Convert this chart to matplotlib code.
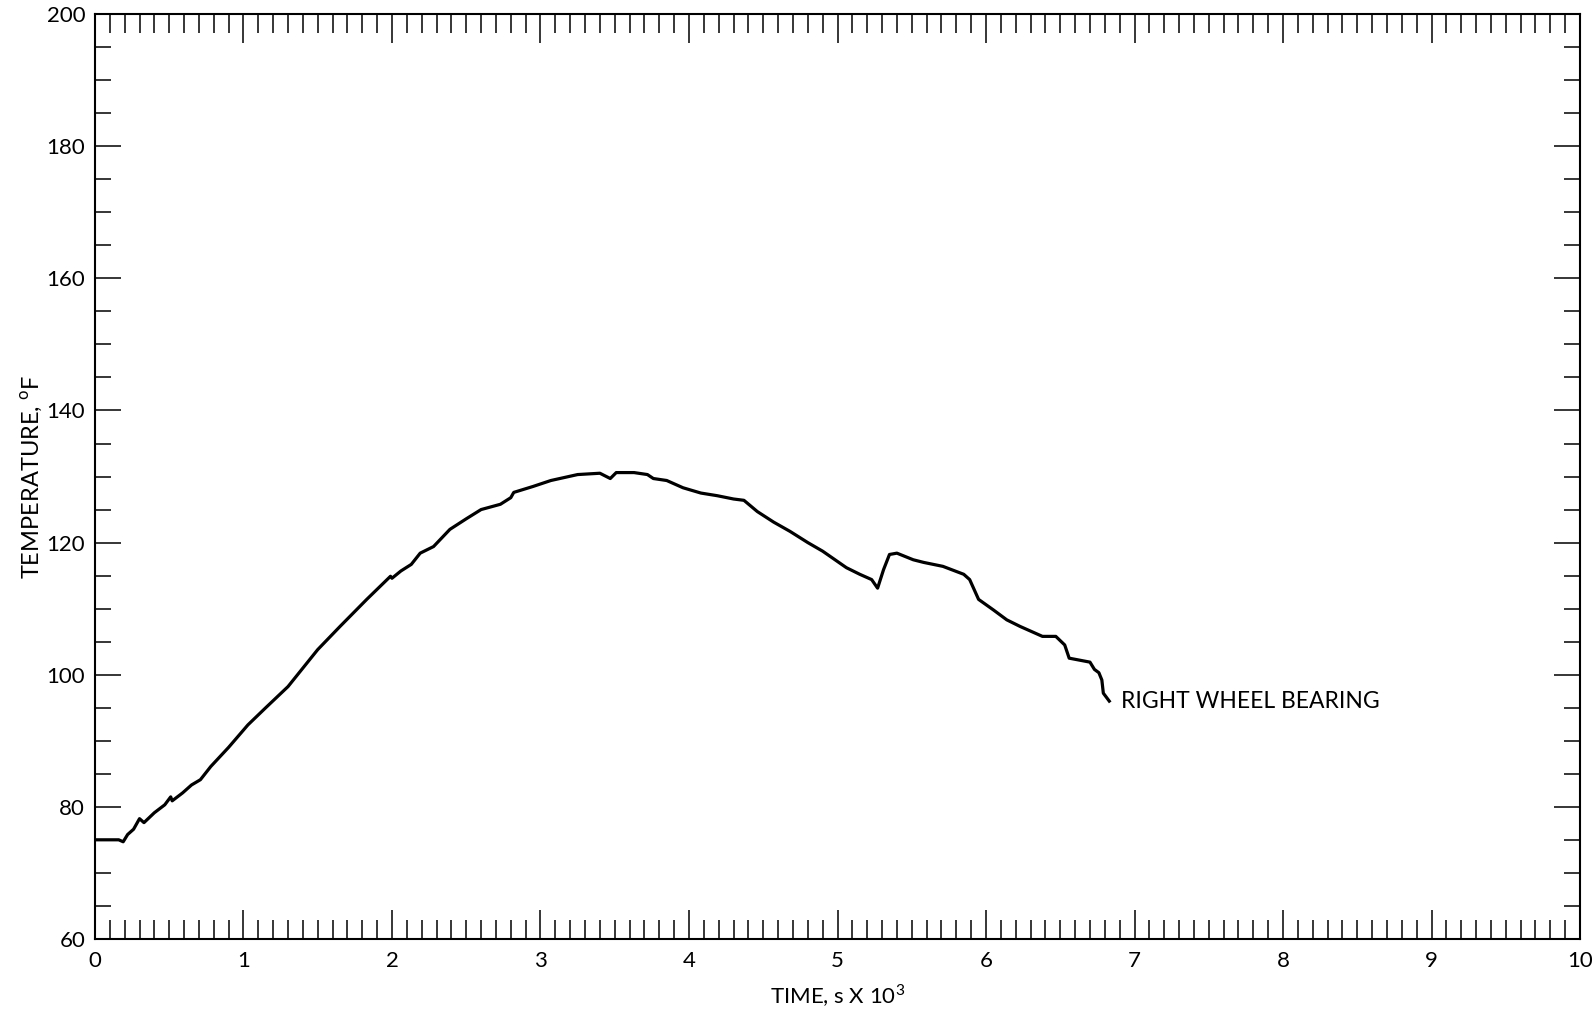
import matplotlib
matplotlib.use("Agg")
import matplotlib.pyplot as plt
from matplotlib.ticker import MultipleLocator

plt.rcParams["font.family"] = ["Lato", "DejaVu Sans"]
plt.rcParams["mathtext.fontset"] = "custom"
plt.rcParams["mathtext.rm"] = "Lato"

# time in thousands of seconds, temperature in deg F
time_ks = [
    0.00, 0.10, 0.16, 0.19, 0.22, 0.26, 0.30, 0.33, 0.40, 0.47,
    0.51, 0.52, 0.59, 0.65, 0.71, 0.78, 0.90, 1.03, 1.15, 1.30,
    1.50, 1.65, 1.83, 1.99, 2.00, 2.06, 2.13, 2.19, 2.28, 2.39,
    2.50, 2.60, 2.73, 2.80, 2.82, 2.95, 3.07, 3.25, 3.40, 3.47,
    3.51, 3.63, 3.72, 3.76, 3.85, 3.96, 4.08, 4.19, 4.30, 4.37,
    4.46, 4.57, 4.68, 4.80, 4.90, 5.06, 5.15, 5.23, 5.27, 5.31,
    5.35, 5.40, 5.51, 5.58, 5.71, 5.85, 5.89, 5.95, 6.05, 6.14,
    6.23, 6.38, 6.47, 6.53, 6.56, 6.70, 6.73, 6.76, 6.78, 6.79,
    6.83,
]
temp_f = [
    75.0, 75.0, 75.0, 74.7, 75.8, 76.6, 78.2, 77.6, 79.1, 80.3,
    81.5, 80.9, 82.1, 83.3, 84.1, 86.1, 89.0, 92.4, 95.0, 98.2,
    103.8, 107.3, 111.4, 114.9, 114.6, 115.7, 116.7, 118.4, 119.4, 122.0,
    123.6, 125.0, 125.8, 126.8, 127.6, 128.5, 129.4, 130.3, 130.5, 129.7,
    130.6, 130.6, 130.3, 129.7, 129.4, 128.3, 127.5, 127.1, 126.6, 126.4,
    124.7, 123.1, 121.7, 120.0, 118.7, 116.2, 115.2, 114.4, 113.1, 115.9,
    118.2, 118.4, 117.4, 117.0, 116.4, 115.2, 114.4, 111.4, 109.8, 108.3,
    107.3, 105.8, 105.8, 104.5, 102.5, 101.9, 100.8, 100.3, 99.2, 97.2,
    96.0,
]
curve_label = "RIGHT WHEEL BEARING"

fig = plt.figure(figsize=(15.96, 10.15), dpi=100)
ax = fig.add_axes([0.0595, 0.075, 0.9305, 0.911])

ax.plot(time_ks, temp_f, color="black", lw=2.3, solid_joinstyle="round")
ax.text(6.91, 96.0, curve_label, fontsize=16.5, va="center", ha="left")

ax.set_xlim(0, 10)
ax.set_ylim(60, 200)
ax.xaxis.set_major_locator(MultipleLocator(1))
ax.xaxis.set_minor_locator(MultipleLocator(0.1))
ax.yaxis.set_major_locator(MultipleLocator(20))
ax.yaxis.set_minor_locator(MultipleLocator(5))

ax.tick_params(axis="both", which="both", direction="in",
               top=True, right=True, width=1.1, labelsize=16)
ax.tick_params(axis="x", which="major", length=21, pad=9)
ax.tick_params(axis="x", which="minor", length=13.5)
ax.tick_params(axis="y", which="major", length=19, pad=7)
ax.tick_params(axis="y", which="minor", length=11.5)
for side in ax.spines.values():
    side.set_linewidth(1.5)

ax.set_xlabel("TIME, s X 10$^3$", fontsize=16, labelpad=8)
ax.set_ylabel("TEMPERATURE, $^{\\mathrm{o}}$F", fontsize=17, labelpad=1)

fig.savefig("out.png", dpi=100)
